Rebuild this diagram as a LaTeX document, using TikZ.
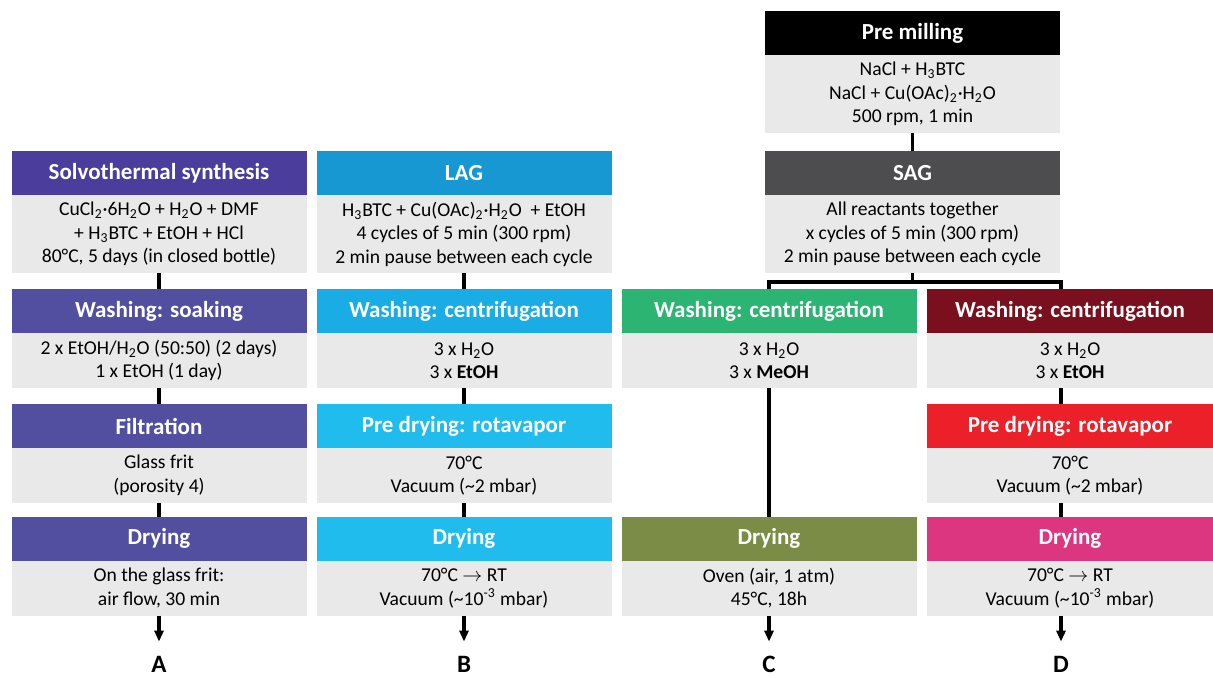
\documentclass[tikz,border=0pt]{standalone}
\usepackage{fontspec}
\setmainfont{Carlito}
\usetikzlibrary{positioning,arrows.meta}

\definecolor{solvo}{RGB}{74,61,155}
\definecolor{solvolight}{RGB}{82,79,160}
\definecolor{lagdark}{RGB}{24,152,210}
\definecolor{lagmid}{RGB}{26,172,228}
\definecolor{laglight}{RGB}{32,188,238}
\definecolor{saggray}{RGB}{77,77,79}
\definecolor{cgreen}{RGB}{44,180,115}
\definecolor{dwine}{RGB}{122,16,30}
\definecolor{dred}{RGB}{236,32,40}
\definecolor{colive}{RGB}{122,140,70}
\definecolor{dpink}{RGB}{220,54,128}
\definecolor{bodygray}{RGB}{233,233,233}

\tikzset{
  head/.style={fill=#1, text=white, font=\fontsize{11.5}{13}\selectfont\bfseries,
    minimum width=147.5pt, minimum height=22pt, inner sep=0pt, outer sep=0pt},
  body/.style={fill=bodygray, font=\fontsize{9.8}{11.75}\selectfont, align=center,
    minimum width=147.5pt, minimum height=#1, inner sep=0pt, outer sep=0pt},
  body/.default=27.5pt,
  link/.style={line width=1.6pt},
  final/.style={line width=1.6pt, -{Triangle[length=5.5pt,width=4.5pt]}, shorten >=7pt},
  letter/.style={font=\fontsize{12.5}{14}\selectfont\bfseries, inner sep=0pt,
    text height=8pt, text depth=0pt}
}

\begin{document}
\begin{tikzpicture}[x=0.5pt,y=-0.5pt]
  \useasboundingbox (0,0) rectangle (1213,677);
  % pre milling and SAG
  \node[head=black] (premill) at (912.5,33) {Pre milling};
  \node[body=39pt, below=0pt of premill] (premillb) {NaCl + H\textsubscript{3}BTC\\NaCl + Cu(OAc)\textsubscript{2}·H\textsubscript{2}O\\500 rpm, 1 min};
  \node[head=saggray] (sag) at (912.5,173) {SAG};
  \node[body=39pt, below=0pt of sag] (sagb) {All reactants together\\x cycles of 5 min (300 rpm)\\2 min pause between each cycle};
  % route A
  \node[head=solvo] (solvo) at (159,173) {Solvothermal synthesis};
  \node[body=39pt, below=0pt of solvo] (solvob) {CuCl\textsubscript{2}·6H\textsubscript{2}O + H\textsubscript{2}O + DMF\\+ H\textsubscript{3}BTC + EtOH + HCl\\80°C, 5 days (in closed bottle)};
  \node[head=solvolight] (awash) at (159,311) {Washing: soaking};
  \node[body, below=0pt of awash] (awashb) {2 x EtOH/H\textsubscript{2}O (50:50) (2 days)\\1 x EtOH (1 day)};
  \node[head=solvolight] (afilt) at (159,426) {Filtration};
  \node[body, below=0pt of afilt] (afiltb) {Glass frit\\(porosity 4)};
  \node[head=solvolight] (adry) at (159,538.5) {Drying};
  \node[body, below=0pt of adry] (adryb) {On the glass frit:\\air flow, 30 min};
  % route B
  \node[head=lagdark] (lag) at (464,173) {LAG};
  \node[body=39pt, below=0pt of lag] (lagb) {H\textsubscript{3}BTC + Cu(OAc)\textsubscript{2}·H\textsubscript{2}O \ + EtOH\\4 cycles of 5 min (300 rpm)\\2 min pause between each cycle};
  \node[head=lagmid] (bwash) at (464,311) {Washing: centrifugation};
  \node[body, below=0pt of bwash] (bwashb) {3 x H\textsubscript{2}O\\3 x \textbf{EtOH}};
  \node[head=laglight] (bpre) at (464,426) {Pre drying: rotavapor};
  \node[body, below=0pt of bpre] (bpreb) {70°C\\Vacuum (\textasciitilde2 mbar)};
  \node[head=laglight] (bdry) at (464,538.5) {Drying};
  \node[body, below=0pt of bdry] (bdryb) {70°C $\rightarrow$ RT\\Vacuum (\textasciitilde10\textsuperscript{-3} mbar)};
  % route C
  \node[head=cgreen] (cwash) at (769,311) {Washing: centrifugation};
  \node[body, below=0pt of cwash] (cwashb) {3 x H\textsubscript{2}O\\3 x \textbf{MeOH}};
  \node[head=colive] (cdry) at (769,538.5) {Drying};
  \node[body, below=0pt of cdry] (cdryb) {Oven (air, 1 atm)\\45°C, 18h};
  % route D
  \node[head=dwine, minimum width=143pt] (dwash) at (1070,311) {Washing: centrifugation};
  \node[body, minimum width=143pt, below=0pt of dwash] (dwashb) {3 x H\textsubscript{2}O\\3 x \textbf{EtOH}};
  \node[head=dred, minimum width=143pt] (dpre) at (1070,426) {Pre drying: rotavapor};
  \node[body, minimum width=143pt, below=0pt of dpre] (dpreb) {70°C\\Vacuum (\textasciitilde2 mbar)};
  \node[head=dpink, minimum width=143pt] (ddry) at (1070,538.5) {Drying};
  \node[body, minimum width=143pt, below=0pt of ddry] (ddryb) {70°C $\rightarrow$ RT\\Vacuum (\textasciitilde10\textsuperscript{-3} mbar)};
  % products
  \node[letter] (la) at (159,664) {A};
  \node[letter] (lb) at (464,664) {B};
  \node[letter] (lc) at (769,664) {C};
  \node[letter] (ld) at (1061,664) {D};
  % connectors
  \coordinate (fork) at (912.5,282);
  \draw[link] (premillb) -- (sag);
  \draw[link] (sagb) -- (fork);
  \draw[link] (cwash.north) |- (fork) -| ([xshift=-4.5pt]dwash.north);
  \draw[link] (solvob) -- (awash);
  \draw[link] (awashb) -- (afilt);
  \draw[link] (afiltb) -- (adry);
  \draw[link] (lagb) -- (bwash);
  \draw[link] (bwashb) -- (bpre);
  \draw[link] (bpreb) -- (bdry);
  \draw[link] (cwashb) -- (cdry);
  \draw[link] ([xshift=-4.5pt]dwashb.south) -- ([xshift=-4.5pt]dpre.north);
  \draw[link] ([xshift=-4.5pt]dpreb.south) -- ([xshift=-4.5pt]ddry.north);
  \draw[final] (adryb) -- (la);
  \draw[final] (bdryb) -- (lb);
  \draw[final] (cdryb) -- (lc);
  \draw[final] ([xshift=-4.5pt]ddryb.south) -- (ld);
\end{tikzpicture}
\end{document}
